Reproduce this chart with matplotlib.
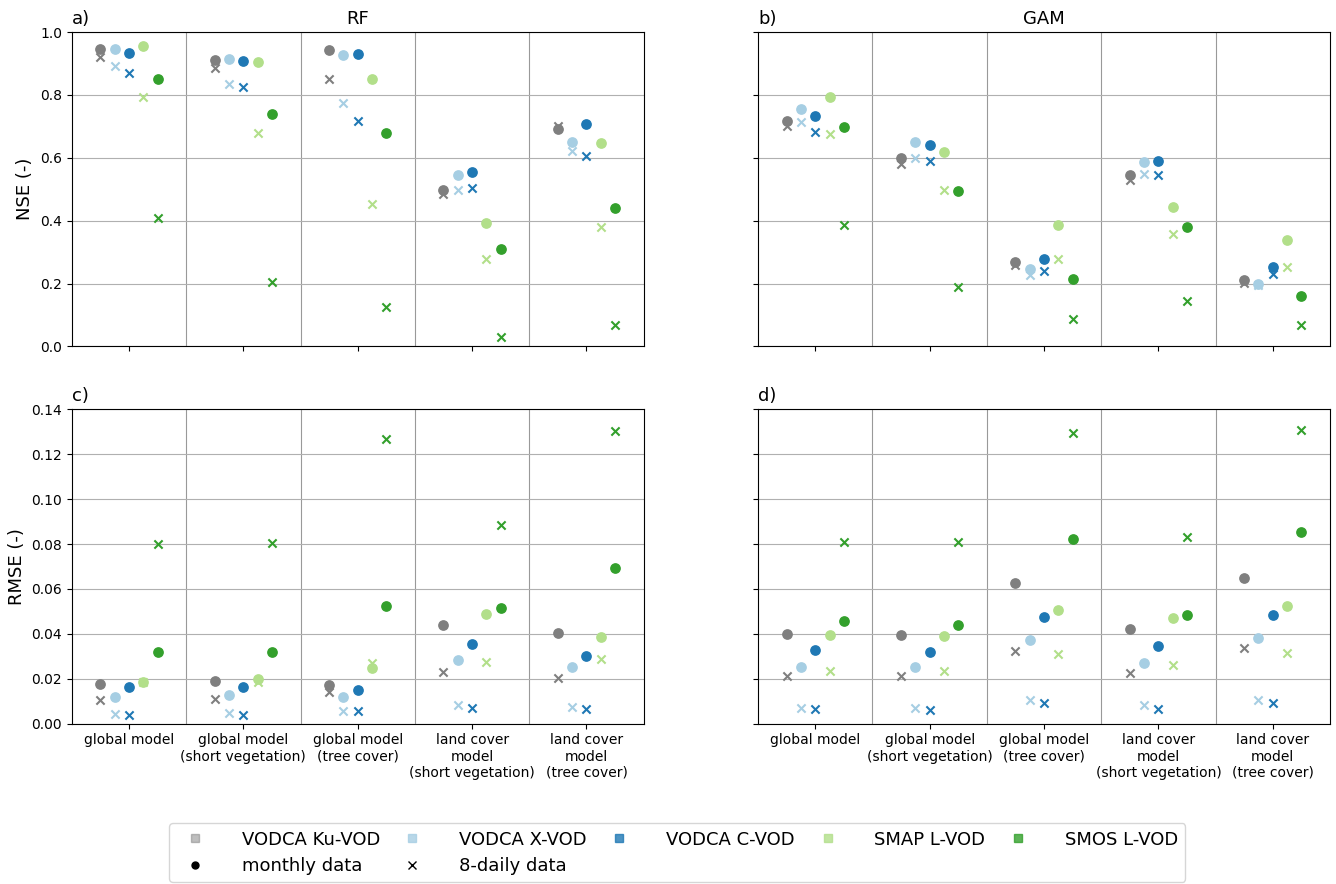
#!/usr/bin/env python3
"""
Model performance (NSE and RMSE) of RF and GAM models per VOD product,
for monthly and 8-daily data.
"""

import numpy as np
import matplotlib.pyplot as plt
from matplotlib.lines import Line2D

# model setups (x axis)
MODELS = ['global model', 'global model\n(short vegetation)', 'global model\n(tree cover)',
          'land cover\nmodel\n(short vegetation)', 'land cover\nmodel\n(tree cover)']

PRODUCTS = ['VODCA Ku-VOD', 'VODCA X-VOD', 'VODCA C-VOD', 'SMAP L-VOD', 'SMOS L-VOD']
COLORS = ['#7f7f7f', '#a6cee3', '#1f78b4', '#b2df8a', '#33a02c']

# values per product (rows: Ku, X, C, SMAP, SMOS), columns: model setups
# RF - NSE
nse_rf_monthly = [
    [0.947, 0.910, 0.944, 0.499, 0.691],
    [0.947, 0.915, 0.927, 0.546, 0.651],
    [0.933, 0.907, 0.930, 0.554, 0.706],
    [0.955, 0.903, 0.852, 0.393, 0.648],
    [0.852, 0.740, 0.678, 0.310, 0.439],
]
nse_rf_8daily = [
    [0.922, 0.887, 0.849, 0.485, 0.702],
    [0.893, 0.835, 0.774, 0.499, 0.620],
    [0.870, 0.826, 0.717, 0.503, 0.606],
    [0.794, 0.678, 0.454, 0.279, 0.379],
    [0.407, 0.204, 0.124, 0.030, 0.069],
]
# GAM - NSE
nse_gam_monthly = [
    [0.716, 0.598, 0.267, 0.544, 0.211],
    [0.755, 0.649, 0.246, 0.585, 0.199],
    [0.732, 0.641, 0.277, 0.589, 0.254],
    [0.794, 0.617, 0.385, 0.442, 0.339],
    [0.697, 0.493, 0.216, 0.380, 0.159],
]
nse_gam_8daily = [
    [0.700, 0.579, 0.258, 0.530, 0.201],
    [0.715, 0.600, 0.227, 0.548, 0.194],
    [0.683, 0.589, 0.239, 0.545, 0.231],
    [0.677, 0.497, 0.279, 0.356, 0.253],
    [0.387, 0.190, 0.087, 0.144, 0.068],
]
# RF - RMSE
rmse_rf_monthly = [
    [0.0177, 0.0189, 0.0174, 0.0441, 0.0406],
    [0.0120, 0.0126, 0.0117, 0.0285, 0.0253],
    [0.0165, 0.0165, 0.0149, 0.0357, 0.0302],
    [0.0187, 0.0198, 0.0250, 0.0489, 0.0385],
    [0.0321, 0.0318, 0.0526, 0.0514, 0.0694],
]
rmse_rf_8daily = [
    [0.0107, 0.0108, 0.0141, 0.0232, 0.0204],
    [0.0045, 0.0049, 0.0056, 0.0085, 0.0073],
    [0.0040, 0.0040, 0.0056, 0.0068, 0.0064],
    [0.0186, 0.0184, 0.0270, 0.0276, 0.0288],
    [0.0800, 0.0804, 0.1269, 0.0884, 0.1305],
]
# GAM - RMSE
rmse_gam_monthly = [
    [0.0401, 0.0397, 0.0627, 0.0422, 0.0651],
    [0.0253, 0.0253, 0.0373, 0.0272, 0.0380],
    [0.0330, 0.0321, 0.0474, 0.0346, 0.0482],
    [0.0394, 0.0389, 0.0505, 0.0470, 0.0526],
    [0.0458, 0.0441, 0.0823, 0.0486, 0.0852],
]
rmse_gam_8daily = [
    [0.0214, 0.0213, 0.0325, 0.0224, 0.0337],
    [0.0071, 0.0071, 0.0104, 0.0082, 0.0104],
    [0.0064, 0.0059, 0.0092, 0.0064, 0.0092],
    [0.0233, 0.0233, 0.0309, 0.0260, 0.0317],
    [0.0811, 0.0807, 0.1293, 0.0831, 0.1309],
]

OFFSETS = [-0.25, -0.125, 0.0, 0.125, 0.25]


def draw_panel(ax, monthly, daily):
    x = np.arange(len(MODELS))
    for i in range(len(PRODUCTS)):
        ax.scatter(x + OFFSETS[i], monthly[i], color=COLORS[i], marker='o', s=45, zorder=3)
        ax.scatter(x + OFFSETS[i], daily[i], color=COLORS[i], marker='x', s=35,
                   linewidths=1.5, zorder=3)
    ax.set_xlim(-0.5, len(MODELS) - 0.5)
    ax.set_xticks(x)
    ax.set_xticks(x[:-1] + 0.5, minor=True)
    ax.tick_params(axis='x', which='minor', length=0)
    ax.grid(axis='x', which='minor', color='#999999', linewidth=0.8)
    ax.grid(axis='y', which='major', color='#b0b0b0', linewidth=0.8)
    ax.set_axisbelow(True)


def main():
    fig, axes = plt.subplots(2, 2, figsize=(13.36, 8.84), dpi=100, sharey='row', sharex='col')
    fig.subplots_adjust(left=0.0537, right=0.9955, top=0.9638, bottom=0.1813,
                        wspace=0.2, hspace=0.2)

    draw_panel(axes[0, 0], nse_rf_monthly, nse_rf_8daily)
    draw_panel(axes[0, 1], nse_gam_monthly, nse_gam_8daily)
    draw_panel(axes[1, 0], rmse_rf_monthly, rmse_rf_8daily)
    draw_panel(axes[1, 1], rmse_gam_monthly, rmse_gam_8daily)

    axes[0, 0].set_ylim(0, 1.0)
    axes[1, 0].set_ylim(0, 0.14)
    axes[0, 0].set_ylabel('NSE (-)', fontsize=13)
    axes[1, 0].set_ylabel('RMSE (-)', fontsize=13)
    axes[0, 0].set_title('RF', fontsize=13)
    axes[0, 1].set_title('GAM', fontsize=13)
    for ax, lab in zip(axes.flat, ['a)', 'b)', 'c)', 'd)']):
        ax.set_title(lab, loc='left', fontsize=13)
    for ax in axes[1]:
        ax.set_xticklabels(MODELS, fontsize=10)
    for ax in axes[:, 1]:
        ax.tick_params(axis='y', labelleft=False)

    # legend
    handles = [Line2D([], [], marker='s', linestyle='', color=COLORS[0], alpha=0.5,
                      markersize=6, label=PRODUCTS[0]),
               Line2D([], [], marker='o', linestyle='', color='black', markersize=5,
                      label='monthly data'),
               Line2D([], [], marker='s', linestyle='', color=COLORS[1], alpha=0.8,
                      markersize=6, label=PRODUCTS[1]),
               Line2D([], [], marker='x', linestyle='', color='black', markersize=6,
                      label='8-daily data')]
    for i in range(2, len(PRODUCTS)):
        handles.append(Line2D([], [], marker='s', linestyle='', color=COLORS[i], alpha=0.8,
                              markersize=6, label=PRODUCTS[i]))
    fig.legend(handles=handles, loc='lower center', bbox_to_anchor=(0.507, -0.008),
               ncol=5, fontsize=13, columnspacing=0.8, handletextpad=1.6,
               borderpad=0.4, labelspacing=0.45)

    fig.savefig('out.png', dpi=100)


if __name__ == '__main__':
    main()
